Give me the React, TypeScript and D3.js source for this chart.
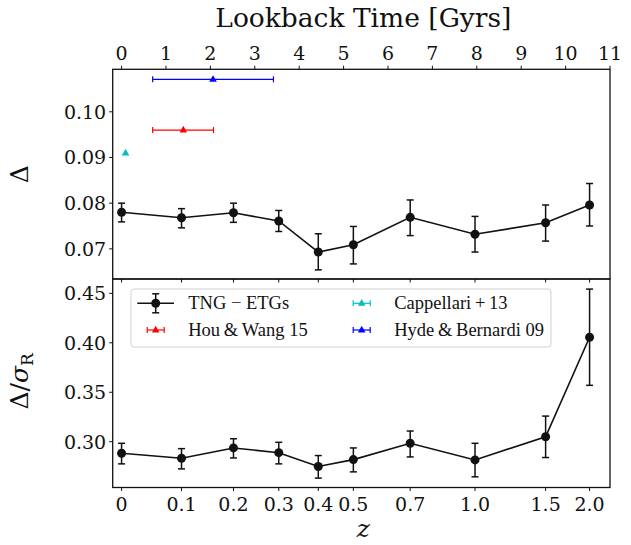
import React from "react";
import * as d3 from "d3";

// ---------- data ----------
const zTickLabels = ["0", "0.1", "0.2", "0.3", "0.4", "0.5", "0.7", "1.0", "1.5", "2.0"];
const lookbackAtZ = [0, 1.35, 2.52, 3.54, 4.43, 5.22, 6.5, 7.96, 9.55, 10.54];
const lookbackTicks = [0, 1, 2, 3, 4, 5, 6, 7, 8, 9, 10, 11];

const deltaVal = [0.078, 0.0768, 0.0779, 0.0761, 0.0693, 0.0709, 0.0769, 0.0732, 0.0757, 0.0796];
const deltaLo = [0.0759, 0.0746, 0.0758, 0.0738, 0.0654, 0.0667, 0.0729, 0.0693, 0.0717, 0.075];
const deltaHi = [0.08, 0.0788, 0.08, 0.0784, 0.0733, 0.0749, 0.0807, 0.0771, 0.0796, 0.0843];

const ratioVal = [0.2883, 0.2833, 0.2937, 0.2889, 0.2749, 0.2819, 0.2984, 0.2816, 0.305, 0.4056];
const ratioLo = [0.2776, 0.2725, 0.2836, 0.2776, 0.2632, 0.2695, 0.2846, 0.2645, 0.284, 0.357];
const ratioHi = [0.2984, 0.293, 0.303, 0.2994, 0.286, 0.2937, 0.3108, 0.2984, 0.3259, 0.4543];

const refNames = ["Hou\u2009&\u2009Wang 15", "Cappellari\u2009+\u200913", "Hyde\u2009&\u2009Bernardi 09"];
const refColors = ["#ff0000", "#00bfbf", "#0000ff"];
const refT = [1.39, 0.09, 2.06];
const refTLo = [0.7, 0.09, 0.7];
const refTHi = [2.07, 0.09, 3.42];
const refDelta = [0.096, 0.091, 0.1071];

const deltaTicks = [0.07, 0.08, 0.09, 0.1];
const ratioTicks = [0.3, 0.35, 0.4, 0.45];

// ---------- layout ----------
const W = 631, H = 545;
const L = 112.7, R = 610;
const topY0 = 69.3, midY = 279, botY1 = 487.5;

const x = d3.scaleLinear().domain([-0.2, 11]).range([L, R]);
const yTop = d3.scaleLinear().domain([0.0634, 0.1093]).range([midY, topY0]);
const yBot = d3.scaleLinear().domain([0.2537, 0.4645]).range([botY1, midY]);

const serif = "'DejaVu Serif', serif";
const lserif = "'Liberation Serif', 'DejaVu Serif', serif";
const tickFs = 19;
const tickLen = 3.5;
const ink = "#111";

function Series({ vals, lo, hi, y }: { vals: number[]; lo: number[]; hi: number[]; y: d3.ScaleLinear<number, number> }) {
  const line = d3.line<number>().x((_, i) => x(lookbackAtZ[i])).y((v) => y(v));
  return (
    <g>
      {vals.map((v, i) => {
        const cx = x(lookbackAtZ[i]);
        return (
          <g key={i} stroke={ink} strokeWidth={1.5}>
            <line x1={cx} x2={cx} y1={y(lo[i])} y2={y(hi[i])} />
            <line x1={cx - 3.5} x2={cx + 3.5} y1={y(lo[i])} y2={y(lo[i])} />
            <line x1={cx - 3.5} x2={cx + 3.5} y1={y(hi[i])} y2={y(hi[i])} />
          </g>
        );
      })}
      <path d={line(vals) || ""} fill="none" stroke={ink} strokeWidth={1.6} />
      {vals.map((v, i) => (
        <circle key={i} cx={x(lookbackAtZ[i])} cy={y(v)} r={4.5} fill={ink} />
      ))}
    </g>
  );
}

function tri(cx: number, cy: number, s: number) {
  return `M${cx},${cy - s}L${cx + s * 0.9},${cy + s * 0.6}L${cx - s * 0.9},${cy + s * 0.6}Z`;
}

export default function App() {
  return (
    <svg width={W} height={H} style={{ position: "fixed", left: 0, top: 0, background: "#fff" }}
      fontFamily={serif}>
      <rect width={W} height={H} fill="#fff" />
      {/* title */}
      <text x={(L + R) / 2 + 2} y={27} textAnchor="middle" fontSize={26.5} fill={ink}>Lookback Time [Gyrs]</text>
      {/* top lookback ticks */}
      {lookbackTicks.map((t) => (
        <g key={t}>
          <line x1={x(t)} x2={x(t)} y1={topY0} y2={topY0 - tickLen} stroke={ink} strokeWidth={1} />
          <text x={x(t)} y={60} textAnchor="middle" fontSize={tickFs} fill={ink}>{t}</text>
        </g>
      ))}
      {/* z ticks between panels and at bottom */}
      {lookbackAtZ.map((t, i) => (
        <g key={i}>
          <line x1={x(t)} x2={x(t)} y1={midY} y2={midY + tickLen} stroke={ink} strokeWidth={1} />
          <line x1={x(t)} x2={x(t)} y1={botY1} y2={botY1 + tickLen} stroke={ink} strokeWidth={1} />
          <text x={x(t)} y={510.7} textAnchor="middle" fontSize={tickFs} fill={ink}>{zTickLabels[i]}</text>
        </g>
      ))}
      {/* y ticks top */}
      {deltaTicks.map((v) => (
        <g key={v}>
          <line x1={L} x2={L - tickLen} y1={yTop(v)} y2={yTop(v)} stroke={ink} strokeWidth={1} />
          <text x={L - 6.5} y={yTop(v)} dy="0.36em" textAnchor="end" fontSize={tickFs} fill={ink}>{v.toFixed(2)}</text>
        </g>
      ))}
      {ratioTicks.map((v) => (
        <g key={v}>
          <line x1={L} x2={L - tickLen} y1={yBot(v)} y2={yBot(v)} stroke={ink} strokeWidth={1} />
          <text x={L - 6.5} y={yBot(v)} dy="0.36em" textAnchor="end" fontSize={tickFs} fill={ink}>{v.toFixed(2)}</text>
        </g>
      ))}
      {/* axis labels */}
      <text transform={`translate(28,${(topY0 + midY) / 2}) rotate(-90)`} textAnchor="middle" fontSize={25} fill={ink}>Δ</text>
      <text transform={`translate(28,${(midY + botY1) / 2 - 2}) rotate(-90)`} textAnchor="middle" fontSize={25} fill={ink}>
        Δ/<tspan fontStyle="italic">σ</tspan><tspan fontSize={17} dy={5}>R</tspan>
      </text>
      <text x={(L + R) / 2 + 2} y={537} textAnchor="middle" fontSize={25} fontStyle="italic" fill={ink}>z</text>

      {/* reference points */}
      {refDelta.map((v, i) => {
        const cy = yTop(v);
        const x1 = x(refTLo[i]), x2 = x(refTHi[i]);
        return (
          <g key={i} stroke={refColors[i]} strokeWidth={1.2}>
            {refTHi[i] > refTLo[i] && (
              <g>
                <line x1={x1} x2={x2} y1={cy} y2={cy} />
                <line x1={x1} x2={x1} y1={cy - 3} y2={cy + 3} />
                <line x1={x2} x2={x2} y1={cy - 3} y2={cy + 3} />
              </g>
            )}
            <path d={tri(x(refT[i]), cy, 4.2)} fill={refColors[i]} stroke="none" />
          </g>
        );
      })}

      <Series vals={deltaVal} lo={deltaLo} hi={deltaHi} y={yTop} />
      <Series vals={ratioVal} lo={ratioLo} hi={ratioHi} y={yBot} />

      {/* legend */}
      <g>
        <rect x={131} y={289} width={420} height={58} rx={3} fill="#fff" fillOpacity={0.8} stroke="#d0d0d0" strokeWidth={1} />
        <g stroke={ink} strokeWidth={1.5}>
          <line x1={137.3} x2={174} y1={303.3} y2={303.3} />
          <line x1={155.7} x2={155.7} y1={293.8} y2={312.8} />
          <line x1={152.2} x2={159.2} y1={293.8} y2={293.8} />
          <line x1={152.2} x2={159.2} y1={312.8} y2={312.8} />
        </g>
        <circle cx={155.7} cy={303.3} r={4.5} fill={ink} />
        <text x={188.3} y={303.3} dy="0.33em" fontFamily={lserif} fontSize={18.5} fill={ink}>TNG − ETGs</text>
        {refNames.map((n, i) => {
          const pos = [
            [155.7, 330],
            [361.7, 303.3],
            [361.7, 330],
          ][i];
          const [cx, cy] = pos;
          return (
            <g key={i}>
              <g stroke={refColors[i]} strokeWidth={1.2}>
                <line x1={cx - 8.5} x2={cx + 8.5} y1={cy} y2={cy} />
                <line x1={cx - 8.5} x2={cx - 8.5} y1={cy - 3} y2={cy + 3} />
                <line x1={cx + 8.5} x2={cx + 8.5} y1={cy - 3} y2={cy + 3} />
              </g>
              <path d={tri(cx, cy, 4.2)} fill={refColors[i]} />
              <text x={cx + 32.5} y={cy} dy="0.33em" fontFamily={lserif} fontSize={18.5} fill={ink}>{n}</text>
            </g>
          );
        })}
      </g>

      {/* frames */}
      <rect x={L} y={topY0} width={R - L} height={midY - topY0} fill="none" stroke={ink} strokeWidth={1.3} />
      <rect x={L} y={midY} width={R - L} height={botY1 - midY} fill="none" stroke={ink} strokeWidth={1.3} />
    </svg>
  );
}
